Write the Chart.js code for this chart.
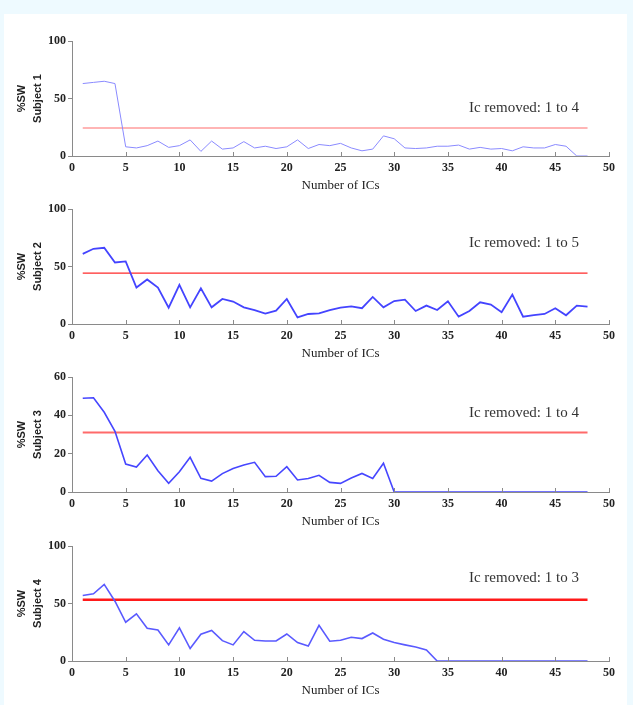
<!DOCTYPE html>
<html>
<head>
<meta charset="utf-8">
<script src="https://cdn.jsdelivr.net/npm/chart.js@4.4.0/dist/chart.umd.min.js"></script>
<style>
body { margin: 0; background: #eefaff; overflow: hidden; width: 633px; height: 705px; }
#sheet { position: absolute; left: 4px; top: 14px; width: 623px; height: 691px; background: #fff; }
canvas { position: absolute; left: 0; }
</style>
</head>
<body>
<div id="sheet"></div>
<canvas id="c1" width="633" height="167" style="top:31px"></canvas>
<canvas id="c2" width="633" height="167" style="top:199px"></canvas>
<canvas id="c3" width="633" height="167" style="top:367px"></canvas>
<canvas id="c4" width="633" height="167" style="top:536px"></canvas>
<script>
// numero de ICs (eje x)
const icNumbers = [1, 2, 3, 4, 5, 6, 7, 8, 9, 10, 11, 12, 13, 14, 15, 16, 17, 18, 19, 20, 21, 22, 23, 24,
    25, 26, 27, 28, 29, 30, 31, 32, 33, 34, 35, 36, 37, 38, 39, 40, 41, 42, 43, 44, 45, 46, 47, 48];

// %SW por sujeto
const subject1 = [63, 64, 65, 63, 8, 7, 9, 13, 7.5, 9, 14, 4, 13, 6, 7, 12.5, 7, 8.5, 6.5, 8, 14, 6.5, 10, 9,
    11, 7, 4.5, 6, 17.5, 15, 7, 6.5, 7, 8.5, 8.5, 9.5, 6, 7.5, 6, 6.5, 4.5, 8, 7, 7, 10, 8.5, 0, 0];
const subject2 = [61, 65.4, 66.3, 53.5, 54.4, 31.7, 38.7, 31.7, 14.2, 34, 14.5, 31, 14.5, 21.8, 19.5, 14.5,
    12, 9, 11.6, 21.8, 5.8, 8.7, 9.3, 12, 14.2, 15.4, 13.7, 23.5, 14.5, 20, 21.2, 11.3, 16, 12.2, 19.8, 6.4,
    11.3, 18.9, 16.9, 10.2, 25.6, 6.4, 7.8, 8.7, 13.7, 7.6, 16, 15.1];
const subject3 = [48.9, 49.2, 41.6, 31.7, 14.6, 13, 19.3, 11.1, 4.5, 10.6, 18.1, 7.1, 5.7, 9.6, 12.3, 14.1,
    15.5, 8, 8.2, 13.2, 6.3, 7, 8.7, 5, 4.5, 7.3, 9.7, 7.1, 15, 0, 0, 0, 0, 0, 0, 0, 0, 0, 0, 0, 0, 0, 0, 0,
    0, 0, 0, 0];
const subject4 = [57, 58.4, 66.6, 52, 33.7, 41, 28.5, 27, 14, 28.8, 10.8, 23.3, 26.5, 17.7, 14, 25.6, 18,
    17.4, 17.4, 23.5, 16, 13, 31, 17.2, 18, 20.6, 19.5, 24.4, 18.9, 16, 14, 12.2, 9.6, 0, 0, 0, 0, 0, 0, 0,
    0, 0, 0, 0, 0, 0, 0, 0];

// umbral y ICs eliminados
const thresholds = [24.4, 44.2, 31.1, 53.2];
const thresholdRange = [1, 48];
const removedLabels = ['Ic removed: 1 to 4', 'Ic removed: 1 to 5', 'Ic removed: 1 to 4', 'Ic removed: 1 to 3'];
const subjectTitles = ['Subject 1', 'Subject 2', 'Subject 3', 'Subject 4'];

// escalas
const xTicks = [0, 5, 10, 15, 20, 25, 30, 35, 40, 45, 50];
const yMax = [100, 100, 60, 100];
const yStep = [50, 50, 20, 50];

// estilos
const lineColors = ['#8a8aff', '#4444ff', '#4646ff', '#5a5aff'];
const lineWidths = [1, 1.8, 1.6, 1.6];
const redColors = ['#ff9c9c', '#ff2a2a', '#ff6a6a', '#ff1a1a'];
const redWidths = [1.5, 1.2, 2, 2.5];
const labelPos = [[47.2, 42], [47.2, 70.4], [47.2, 41.4], [47.2, 72.2]];

const axisColor = '#8a8a8a';

// marcas del eje x hacia dentro + texto
const panelDecor = {
    id: 'panelDecor',
    afterDraw(chart, args, opts) {
        const ctx = chart.ctx;
        const xs = chart.scales.x;
        const ys = chart.scales.y;
        const bottom = chart.chartArea.bottom;
        ctx.save();
        ctx.strokeStyle = axisColor;
        ctx.lineWidth = 1;
        xTicks.forEach((t) => {
            const px = Math.round(xs.getPixelForValue(t)) + 0.5;
            ctx.beginPath();
            ctx.moveTo(px, bottom);
            ctx.lineTo(px, bottom - 4);
            ctx.stroke();
        });
        ctx.font = '15px "Liberation Serif", "Times New Roman", serif';
        ctx.fillStyle = '#333';
        ctx.textAlign = 'right';
        ctx.textBaseline = 'middle';
        ctx.fillText(opts.text, xs.getPixelForValue(opts.pos[0]), ys.getPixelForValue(opts.pos[1]));
        ctx.restore();
    }
};

const allSeries = [subject1, subject2, subject3, subject4];

allSeries.forEach((series, i) => {
    const ctx = document.getElementById('c' + (i + 1)).getContext('2d');
    new Chart(ctx, {
        type: 'line',
        data: {
            datasets: [{
                data: icNumbers.map((x, k) => ({ x: x, y: series[k] })),
                borderColor: lineColors[i],
                borderWidth: lineWidths[i],
                pointRadius: 0,
                tension: 0,
                order: 1,
            }, {
                data: thresholdRange.map((x) => ({ x: x, y: thresholds[i] })),
                borderColor: redColors[i],
                borderWidth: redWidths[i],
                pointRadius: 0,
                order: 2,
            }],
        },
        options: {
            responsive: false,
            animation: false,
            devicePixelRatio: 1,
            events: [],
            layout: { padding: { top: 10, right: 24, left: 0, bottom: 0 } },
            plugins: {
                legend: { display: false },
                tooltip: { enabled: false },
                panelDecor: { text: removedLabels[i], pos: labelPos[i] },
            },
            scales: {
                x: {
                    type: 'linear',
                    min: 0,
                    max: 50,
                    afterFit: (s) => { s.height = 42; },
                    ticks: {
                        stepSize: 5,
                        padding: 5,
                        color: '#222',
                        font: { family: '"Liberation Serif", serif', size: 12, weight: 'bold' },
                    },
                    grid: { drawOnChartArea: false, drawTicks: false, color: axisColor },
                    border: { color: axisColor, width: 1 },
                    title: {
                        display: true,
                        text: 'Number of ICs',
                        color: '#222',
                        padding: { top: 0, bottom: 5 },
                        font: { family: '"Liberation Serif", serif', size: 13, lineHeight: 1.2 },
                    },
                },
                y: {
                    min: 0,
                    max: yMax[i],
                    afterFit: (s) => { s.width = 72; },
                    ticks: {
                        stepSize: yStep[i],
                        padding: 2,
                        color: '#222',
                        font: { family: '"Liberation Serif", serif', size: 12, weight: 'bold' },
                    },
                    grid: { drawOnChartArea: false, drawTicks: true, tickLength: 4, color: axisColor },
                    border: { color: axisColor, width: 1 },
                    title: {
                        display: true,
                        text: ['%SW', subjectTitles[i]],
                        color: '#222',
                        padding: { top: 14, bottom: 0 },
                        font: { family: '"Liberation Sans", Arial, sans-serif', size: 11, weight: 'bold', lineHeight: 1.45 },
                    },
                },
            },
        },
        plugins: [panelDecor],
    });
});
</script>
</body>
</html>
